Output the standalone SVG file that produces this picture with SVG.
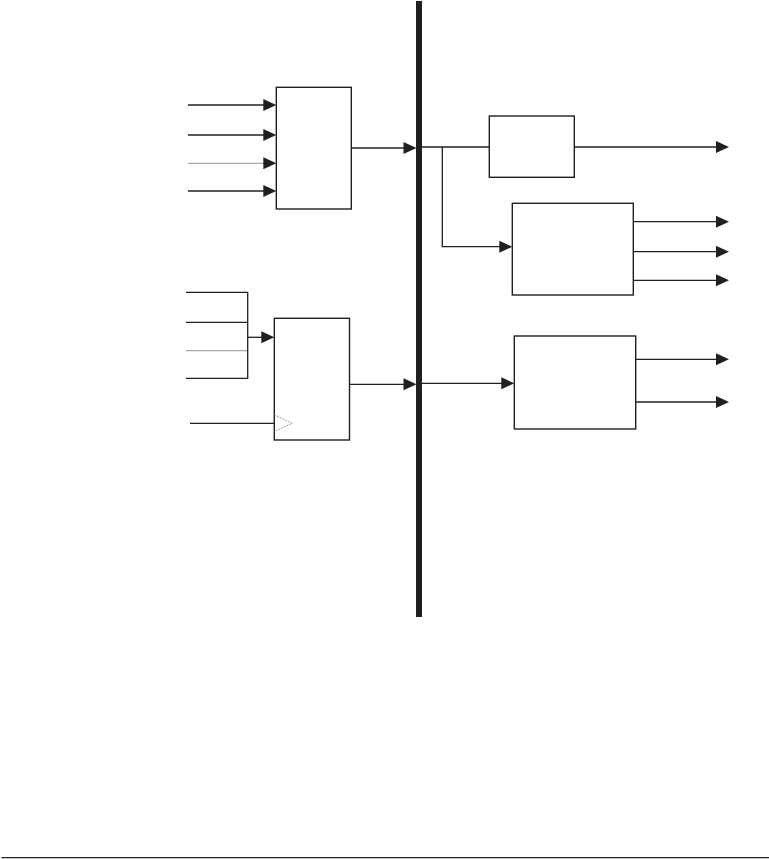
<svg xmlns="http://www.w3.org/2000/svg" width="769" height="859" viewBox="0 0 769 859">
<style>
.box{fill:#fff;stroke:#231f20;stroke-width:1.4}
.ln{fill:none;stroke:#231f20;stroke-width:1.3}
.gl{fill:none;stroke:#a7a9ac;stroke-width:1.3}
.ah{fill:#231f20}
.clk{fill:none;stroke:#8a8a8a;stroke-width:0.8;stroke-dasharray:2 1}
</style>
<defs>
<polygon id="arr" class="ah" points="-13,-6 0,0 -13,6"/>
</defs>
<rect x="0" y="0" width="769" height="859" fill="#fff"/>
<g id="bus"><rect x="416" y="1" width="6" height="616" fill="#231f20"/></g>
<g id="mux1"><rect class="box" x="276.3" y="87.3" width="75" height="121.7"/></g>
<g id="reg2"><rect class="box" x="274.3" y="318.3" width="75.2" height="121.7"/>
<polyline class="clk" points="274.3,415 292.3,423.3 274.3,431.5"/></g>
<g id="blk3"><rect class="box" x="489.3" y="116" width="85" height="61.3"/></g>
<g id="blk4"><rect class="box" x="512.3" y="203.3" width="121" height="91.7"/></g>
<g id="blk5"><rect class="box" x="514.3" y="336" width="121.4" height="93"/></g>
<g id="connectors">
<line class="ln" x1="188" y1="105" x2="264" y2="105"/><use href="#arr" x="276.3" y="105"/>
<line class="ln" x1="188" y1="135" x2="264" y2="135"/><use href="#arr" x="276.3" y="135"/>
<line class="gl" x1="188" y1="163.3" x2="264" y2="163.3"/><use href="#arr" x="276.3" y="163.3"/>
<line class="ln" x1="188" y1="191" x2="264" y2="191"/><use href="#arr" x="276.3" y="191"/>
<line class="ln" x1="351.3" y1="148" x2="404" y2="148"/><use href="#arr" x="416.5" y="148"/>
<polyline class="ln" points="186,292.3 247.7,292.3 247.7,378.3 186,378.3"/>
<line class="ln" x1="186" y1="322.3" x2="247.7" y2="322.3"/>
<line class="gl" x1="186" y1="350.7" x2="247" y2="350.7"/>
<line class="ln" x1="247.7" y1="337.3" x2="263" y2="337.3"/><use href="#arr" x="274.3" y="337.3"/>
<line class="ln" x1="190" y1="423.3" x2="274.3" y2="423.3"/>
<line class="ln" x1="349.5" y1="384.3" x2="404" y2="384.3"/><use href="#arr" x="416.5" y="384.3"/>
<line class="ln" x1="422" y1="147" x2="489.3" y2="147"/>
<line class="ln" x1="574.3" y1="147" x2="717" y2="147"/><use href="#arr" x="729" y="147"/>
<polyline class="ln" points="442.3,147 442.3,246.7 500,246.7"/><use href="#arr" x="512.3" y="246.7"/>
<line class="ln" x1="633.3" y1="221.7" x2="717" y2="221.7"/><use href="#arr" x="729" y="221.7"/>
<line class="ln" x1="633.3" y1="251.7" x2="717" y2="251.7"/><use href="#arr" x="729" y="251.7"/>
<line class="ln" x1="633.3" y1="280.3" x2="717" y2="280.3"/><use href="#arr" x="729" y="280.3"/>
<line class="ln" x1="422" y1="383.3" x2="502" y2="383.3"/><use href="#arr" x="514.3" y="383.3"/>
<line class="ln" x1="635.7" y1="359.3" x2="717" y2="359.3"/><use href="#arr" x="729" y="359.3"/>
<line class="ln" x1="635.7" y1="402" x2="717" y2="402"/><use href="#arr" x="729" y="402"/>
</g>
<line x1="1.5" y1="857.7" x2="769" y2="857.7" stroke="#231f20" stroke-width="1.3"/>
</svg>
